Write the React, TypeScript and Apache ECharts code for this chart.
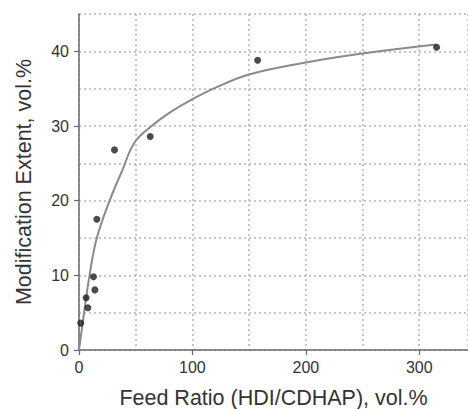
import React, { useEffect, useRef } from "react";
import * as echarts from "echarts";

const pointX = [1.5, 6.3, 7.8, 12.8, 14, 15.7, 31.3, 62.8, 157.5, 315.3];
const pointY = [3.6, 7.0, 5.65, 9.8, 8.05, 17.5, 26.8, 28.6, 38.8, 40.55];

const curveX = [0, 4.5, 9.3, 15.7, 27, 38, 49, 64, 80, 99, 120, 150, 200, 250, 315];
const curveY = [0, 5, 10, 15, 20, 24, 27.8, 30, 31.8, 33.5, 35.1, 36.9, 38.5, 39.7, 40.9];

const xName = "Feed Ratio (HDI/CDHAP), vol.%";
const yName = "Modification Extent, vol.%";

const FONT = "Liberation Sans, Arial, sans-serif";

export default function App() {
  const ref = useRef<HTMLDivElement>(null);
  useEffect(() => {
    if (!ref.current) return;
    const chart = echarts.init(ref.current, undefined, { renderer: "svg", width: 468, height: 409 });
    const grid = "#b4b4b4";
    const axisColor = "#6a6a6a";
    const dotted = { color: grid, type: [2, 3] as any, width: 1.5 };
    chart.setOption({
      animation: false,
      backgroundColor: "#ffffff",
      grid: { left: 79, top: 14, right: 0, bottom: 59, containLabel: false, outerBoundsMode: "none" },
      xAxis: [
        {
          type: "value",
          min: 0,
          max: 343,
          interval: 50,
          position: "bottom",
          axisLine: { show: false },
          axisTick: { show: false },
          axisLabel: { show: false },
          splitLine: { show: true, lineStyle: dotted },
        },
        {
          type: "value",
          min: 0,
          max: 343,
          interval: 100,
          position: "bottom",
          offset: 0,
          name: xName,
          nameLocation: "middle",
          nameGap: 37,
          nameTextStyle: { fontFamily: FONT, fontSize: 21.5, color: "#333" },
          axisLine: { show: true, lineStyle: { color: axisColor, width: 1.5 } },
          axisTick: { show: true, length: 5, lineStyle: { color: axisColor, width: 1.2 } },
          axisLabel: { margin: 9, fontFamily: FONT, fontSize: 16, color: "#333", showMaxLabel: false },
          splitLine: { show: false },
        },
      ],
      yAxis: [
        {
          type: "value",
          min: 0,
          max: 45,
          interval: 5,
          position: "left",
          axisLine: { show: false },
          axisTick: { show: false },
          axisLabel: { show: false },
          splitLine: { show: true, lineStyle: dotted },
        },
        {
          type: "value",
          min: 0,
          max: 45,
          interval: 10,
          position: "left",
          offset: 0,
          name: yName,
          nameLocation: "middle",
          nameGap: 44,
          nameTextStyle: { fontFamily: FONT, fontSize: 21.5, color: "#333" },
          axisLine: { show: true, lineStyle: { color: axisColor, width: 1.5 } },
          axisTick: { show: true, length: 5, lineStyle: { color: axisColor, width: 1.2 } },
          axisLabel: {
            margin: 10,
            fontFamily: FONT,
            fontSize: 16,
            color: "#333",
            showMaxLabel: false,
          },
          splitLine: { show: false },
        },
      ],
      series: [
        {
          type: "line",
          xAxisIndex: 1,
          yAxisIndex: 1,
          data: curveX.map((x, i) => [x, curveY[i]]),
          smooth: 0.4,
          showSymbol: false,
          symbol: "none",
          lineStyle: { color: "#8a8a8a", width: 2 },
          z: 2,
        },
        {
          type: "scatter",
          xAxisIndex: 1,
          yAxisIndex: 1,
          data: pointX.map((x, i) => [x, pointY[i]]),
          symbol: "circle",
          symbolSize: 7,
          itemStyle: { color: "#1e1e1e" },
          z: 3,
        },
      ],
    });
    return () => chart.dispose();
  }, []);
  return (
    <div
      ref={ref}
      style={{ position: "fixed", left: 0, top: 0, width: 468, height: 409 }}
    />
  );
}
